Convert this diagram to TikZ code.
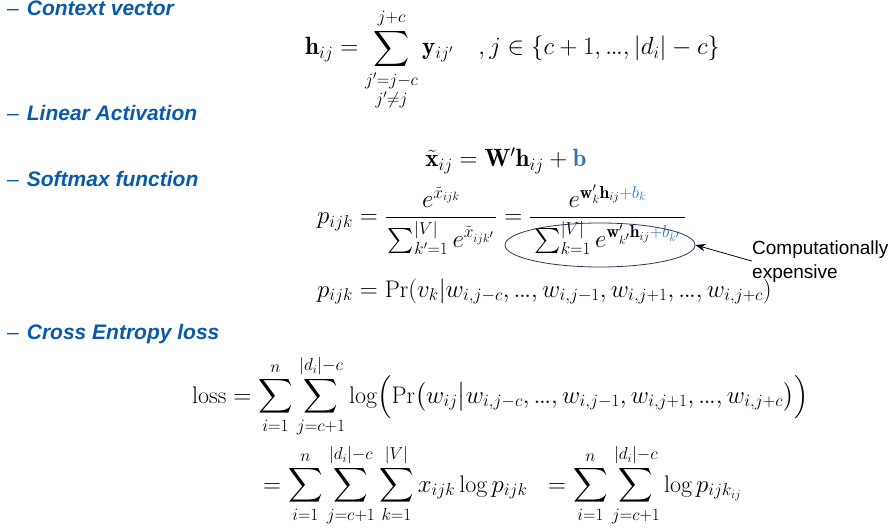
\documentclass[tikz,border=0pt]{standalone}
\usepackage{amsmath,amssymb}
\usepackage{fontspec}
\usepackage{xcolor}
\usetikzlibrary{shapes.geometric,arrows.meta}
\newfontfamily\headfont{Liberation Sans}
\definecolor{headblue}{RGB}{10,90,170}
\definecolor{biasblue}{RGB}{46,117,182}
\definecolor{ringblue}{RGB}{40,55,95}
\newcommand\eqsize{\fontsize{25}{29}\selectfont}
\newcommand\eqsmall{\fontsize{24}{28}\selectfont}
\newcommand\dash{{\mdseries\upshape\textendash}\hspace{8pt}}
\newcommand\tdots{{.\mkern-1mu.\mkern-1mu.}}

\begin{document}
\begin{tikzpicture}[x=1pt,y=-1pt,
    heading/.style={anchor=base west, inner sep=0pt, text=headblue,
      font=\headfont\fontsize{21}{25}\selectfont\bfseries\itshape},
    eq/.style={anchor=base west, inner sep=0pt, font=\eqsize},
    eqs/.style={eq, font=\eqsmall}]
  \useasboundingbox (0,0) rectangle (896,529);
  % section titles
  \node[heading] (hctx)  at (7,16)  {\dash Context vector};
  \node[heading] (hlin)  at (7,121) {\dash Linear Activation};
  \node[heading] (hsoft) at (7,187) {\dash Softmax function};
  \node[heading] (hloss) at (7,339) {\dash Cross Entropy loss};
  % equations
  \node[eq] (ctx) at (305,55)
    {$\displaystyle\mathbf{h}_{ij}=\sum_{\substack{j'=j-c\\ j'\neq j}}^{j+c}\mathbf{y}_{ij'}
      \quad ,j\in\{c+1,\tdots,|d_i|-c\}$};
  \node[eq, anchor=base] (lin) at (506,167)
    {$\tilde{\mathbf{x}}_{ij}=\mathbf{W}'\mathbf{h}_{ij}+\textcolor{biasblue}{\mathbf{b}}$};
  \node[eq] (soft) at (317,224)
    {$p_{ijk}=\dfrac{e^{\tilde{x}_{ijk}}}{\hspace{2pt}\sum_{k'=1}^{|V|}e^{\tilde{x}_{ijk'}}\hspace{2pt}}
      =\dfrac{e^{\mathbf{w}'_k\mathbf{h}_{ij}\textcolor{biasblue}{+b_k}}}
             {\hspace{4pt}\sum_{k=1}^{|V|}e^{\mathbf{w}'_{k'}\mathbf{h}_{ij}\textcolor{biasblue}{+b_{k'}}}\hspace{4pt}}$};
  \node[eqs] (prob) at (317,297)
    {$p_{ijk}=\Pr(v_k|w_{i,j-c},\tdots,w_{i,j-1},w_{i,j+1},\tdots,w_{i,j+c})$};
  \node[eqs] (loss) at (192,403)
    {$\displaystyle\mathrm{loss}=\sum_{i=1}^{n}\sum_{j=c+1}^{|d_i|-c}\log\Bigl(\Pr\bigl(w_{ij}\big|w_{i,j-c},\tdots,w_{i,j-1},w_{i,j+1},\tdots,w_{i,j+c}\bigr)\Bigr)$};
  \node[eqs] (lossb) at (263,492)
    {$\displaystyle=\sum_{i=1}^{n}\sum_{j=c+1}^{|d_i|-c}\sum_{k=1}^{|V|}x_{ijk}\log p_{ijk}
        \;\;=\sum_{i=1}^{n}\sum_{j=c+1}^{|d_i|-c}\log p_{ijk_{ij}}$};
  % expensive denominator
  \node[ellipse, draw=ringblue, thick, minimum width=190pt, minimum height=44pt] (den) at (600,245) {};
  \node[anchor=base west, align=left, inner sep=0pt, font=\headfont\fontsize{19}{24}\selectfont]
    (note) at (752,278) {Computationally\\ expensive};
  \draw[thick, -{Stealth[length=10pt]}] (note.west) -- (den.east);
\end{tikzpicture}
\end{document}
